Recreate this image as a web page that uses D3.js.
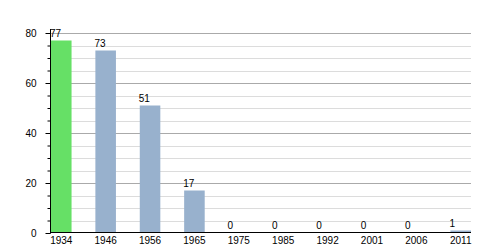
<!DOCTYPE html>
<html>
<head>
<meta charset="utf-8">
<script src="https://cdn.jsdelivr.net/npm/d3@7"></script>
<style>
  body { margin: 0; background: #fff; }
  text { font-family: "Liberation Sans", Arial, sans-serif; }
</style>
</head>
<body>
<div id="chart"></div>
<script>
// census years and population values
const years = ["1934", "1946", "1956", "1965", "1975", "1985", "1992", "2001", "2006", "2011"];
const population = [77, 73, 51, 17, 0, 0, 0, 0, 0, 1];
const yTicks = [0, 20, 40, 60, 80];

const width = 500, height = 250;

const svg = d3.select("#chart").append("svg")
  .attr("width", width)
  .attr("height", height);

// scales
const x = d3.scaleBand()
  .domain(years)
  .range([51, 471])
  .paddingInner(0.537)
  .paddingOuter(0)
  .align(0);

const y = d3.scaleLinear()
  .domain([0, 80])
  .range([233, 33]);

// minor gridlines every 5
svg.append("g")
  .selectAll("line")
  .data(d3.range(5, 80, 5).filter(v => v % 20 !== 0))
  .enter().append("line")
  .attr("x1", 50).attr("x2", 471)
  .attr("y1", d => Math.round(y(d)) + 0.5)
  .attr("y2", d => Math.round(y(d)) + 0.5)
  .attr("stroke", "#dcdcdc")
  .attr("stroke-width", 1);

// major gridlines
svg.append("g")
  .selectAll("line")
  .data(yTicks.filter(v => v > 0))
  .enter().append("line")
  .attr("x1", 50).attr("x2", 471)
  .attr("y1", d => Math.round(y(d)) + 0.5)
  .attr("y2", d => Math.round(y(d)) + 0.5)
  .attr("stroke", "#aaaaaa")
  .attr("stroke-width", 1);

// bars
svg.append("g")
  .selectAll("rect")
  .data(population)
  .enter().append("rect")
  .attr("x", (d, i) => x(years[i]))
  .attr("y", d => y(d))
  .attr("width", x.bandwidth())
  .attr("height", d => y(0) - y(d))
  .attr("fill", (d, i) => i === 0 ? "#66e066" : "#98b1cd");

// value labels, anchored at the bar's left edge
svg.append("g")
  .selectAll("text")
  .data(population)
  .enter().append("text")
  .attr("x", (d, i) => x(years[i]) - 1)
  .attr("y", d => y(d) - 4)
  .style("font-size", "10px")
  .attr("fill", "#000")
  .text(d => d);

// minor ticks on the y axis
svg.append("g")
  .attr("transform", "translate(50.5,0)")
  .call(d3.axisLeft(y).tickValues(d3.range(0, 81, 5)).tickSize(3).tickFormat(""))
  .call(g => g.select(".domain").remove());

// y axis
const yAxis = svg.append("g")
  .attr("transform", "translate(50.5,0)")
  .call(d3.axisLeft(y).tickValues(yTicks).tickSize(5).tickPadding(9).tickSizeOuter(0));
yAxis.select(".domain").attr("d", "M0," + y(0) + "V29");
yAxis.selectAll("text").style("font-size", "10px").attr("fill", "#000");

// x axis
const xAxis = svg.append("g")
  .attr("transform", "translate(0," + (y(0) - 0.5) + ")")
  .call(d3.axisBottom(x).tickSize(0).tickPadding(4));
xAxis.select(".domain").attr("d", "M50,0H471").attr("stroke", "#000");
xAxis.selectAll("text").style("font-size", "10px").attr("fill", "#000");
</script>
</body>
</html>
